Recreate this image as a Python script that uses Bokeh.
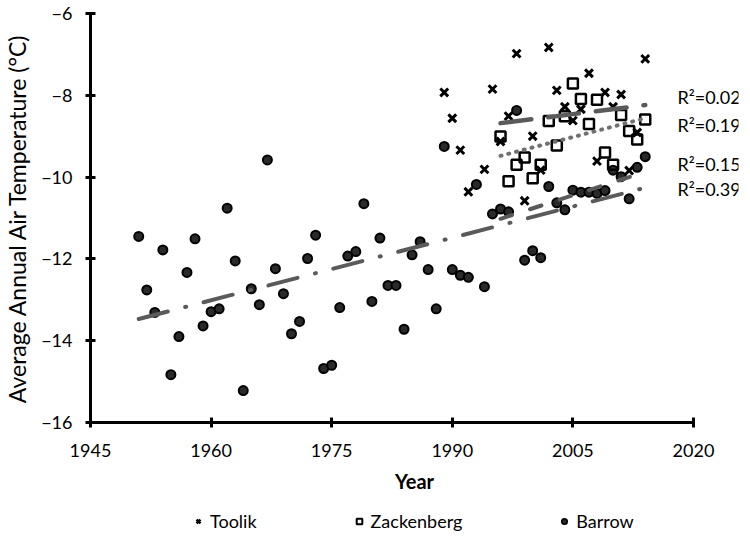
from bokeh.plotting import figure
from bokeh.layouts import column
from bokeh.models import Range1d, FixedTicker, Legend, LegendItem, Label, ColumnDataSource
from bokeh.embed import file_html
from bokeh.resources import INLINE

# ---------------- data ----------------
barrow_years = list(range(1951, 2015))
barrow_temp = [-11.45, -12.76, -13.31, -11.78, -14.83, -13.90, -12.33, -11.51, -13.64, -13.29,
               -13.22, -10.76, -12.05, -15.22, -12.73, -13.12, -9.58, -12.24, -12.85, -13.83,
               -13.53, -11.99, -11.42, -14.68, -14.60, -13.19, -11.93, -11.82, -10.65, -13.04,
               -11.49, -12.65, -12.65, -13.72, -11.90, -11.58, -12.26, -13.22, -9.25, -12.26,
               -12.40, -12.45, -10.18, -12.68, -10.90, -10.78, -10.85, -8.37, -12.03, -11.80,
               -11.97, -10.23, -10.63, -10.80, -10.32, -10.37, -10.37, -10.40, -10.33, -9.83,
               -9.99, -10.53, -9.76, -9.50]

toolik_years = [1989, 1990, 1991, 1992, 1994, 1995, 1996, 1997, 1998, 1999, 2000, 2001, 2002,
                2003, 2004, 2005, 2006, 2007, 2008, 2009, 2010, 2011, 2012, 2013, 2014]
toolik_temp = [-7.93, -8.56, -9.34, -10.36, -9.81, -7.85, -9.13, -8.51, -6.98, -10.58, -9.00,
               -9.83, -6.83, -7.88, -8.28, -8.62, -8.34, -7.46, -9.61, -7.93, -8.28, -7.98,
               -9.84, -8.91, -7.11]

zack_years = list(range(1996, 2015))
zack_temp = [-9.01, -10.10, -9.70, -9.52, -10.03, -9.70, -8.63, -9.23, -8.51, -7.71, -8.09,
             -8.70, -8.11, -9.40, -9.70, -8.48, -8.87, -9.08, -8.59]

# trend lines (start/end)
toolik_trend_x = [1996, 2014]
toolik_trend_y = [-8.68, -8.24]
zack_trend_x = [1996, 2014]
zack_trend_y = [-9.48, -8.56]
barrow_recent_trend_x = [1996, 2014]
barrow_recent_trend_y = [-11.02, -9.87]
barrow_full_trend_x = [1951, 2014]
barrow_full_trend_y = [-13.47, -10.26]

r2_texts = ["R\u00b2=0.02", "R\u00b2=0.19", "R\u00b2=0.15", "R\u00b2=0.39"]
r2_y = [-8.04, -8.73, -9.68, -10.29]
r2_x = 2018.0

series_names = ["Toolik", "Zackenberg", "Barrow"]
x_ticks = [1945, 1960, 1975, 1990, 2005, 2020]
y_ticks = [-16, -14, -12, -10, -8, -6]

FONT = "Lato"
LINE_GRAY = "#5a5a5a"

# ---------------- main figure ----------------
# frame extends right of 2020 so the R^2 labels fit; axis line limited by bounds
fig = figure(width=742, height=500, x_range=Range1d(1945, 2025.6), y_range=Range1d(-16, -6),
             output_backend="svg", toolbar_location=None,
             min_border_left=81, min_border_right=4, min_border_top=13, min_border_bottom=78)
fig.outline_line_color = None
fig.xgrid.visible = False
fig.ygrid.visible = False

for ax in (fig.xaxis[0], fig.yaxis[0]):
    ax.axis_line_width = 3
    ax.axis_line_color = "black"
    ax.major_tick_line_width = 3
    ax.major_tick_line_color = "black"
    ax.major_tick_in = 5
    ax.major_tick_out = 5
    ax.minor_tick_line_color = None
    ax.major_label_text_font = FONT
    ax.major_label_text_font_size = "18px"
    ax.major_label_text_color = "black"
    ax.axis_label_text_font = FONT
    ax.axis_label_text_color = "black"

fig.xaxis.bounds = (1945, 2020)
fig.xaxis.ticker = FixedTicker(ticks=x_ticks)
fig.yaxis.ticker = FixedTicker(ticks=y_ticks)
fig.xaxis.axis_label = "Year"
fig.xaxis.axis_label_text_font_style = "bold"
fig.xaxis.axis_label_text_font_size = "20px"
fig.yaxis.axis_label = "Average Annual Air Temperature (\u00b0C)"
fig.yaxis.axis_label_text_font_style = "normal"
fig.yaxis.axis_label_text_font_size = "23px"
fig.xaxis.major_label_standoff = 16
fig.yaxis.major_label_standoff = 13
fig.xaxis.axis_label_standoff = 9
fig.yaxis.axis_label_standoff = 7

# points
fig.scatter(barrow_years, barrow_temp, marker="circle", size=9, fill_color="#2a2a2a",
            line_color="black", line_width=2)
fig.scatter(zack_years, zack_temp, marker="square", size=10, fill_alpha=0,
            line_color="black", line_width=2.5)
fig.scatter(toolik_years, toolik_temp, marker="x", size=11, line_color="black", line_width=3)

# trend lines
fig.line(barrow_full_trend_x, barrow_full_trend_y, line_color=LINE_GRAY, line_width=4,
         line_dash="30 18 1 18", line_cap="round")
fig.line(barrow_recent_trend_x, barrow_recent_trend_y, line_color=LINE_GRAY, line_width=4,
         line_dash="12 19", line_cap="round")
fig.line(zack_trend_x, zack_trend_y, line_color="#707070", line_width=4,
         line_dash="1 7", line_cap="round")
fig.line(toolik_trend_x, toolik_trend_y, line_color=LINE_GRAY, line_width=4.5,
         line_dash="31 17", line_cap="round")

# R^2 labels
for t, yv in zip(r2_texts, r2_y):
    fig.add_layout(Label(x=r2_x, y=yv, text=t, text_baseline="middle", text_align="left",
                         text_font=FONT, text_font_size="18px", text_color="black"))

# ---------------- legend strip ----------------
leg_fig = figure(width=742, height=40, x_range=Range1d(0, 1), y_range=Range1d(0, 1),
                 output_backend="svg", toolbar_location=None, min_border=0,
                 x_axis_type=None, y_axis_type=None)
leg_fig.outline_line_color = None
nan = float("nan")
leg_src = ColumnDataSource(dict(x=[nan], y=[nan]))
r_t = leg_fig.scatter("x", "y", source=leg_src, marker="x", line_color="black",
                      line_width=2.5)
r_z = leg_fig.scatter("x", "y", source=leg_src, marker="square", fill_alpha=0,
                      line_color="black", line_width=2)
r_b = leg_fig.scatter("x", "y", source=leg_src, marker="circle", fill_color="#2a2a2a",
                      line_color="black", line_width=1.5)
legend = Legend(items=[LegendItem(label=series_names[0], renderers=[r_t]),
                       LegendItem(label=series_names[1], renderers=[r_z]),
                       LegendItem(label=series_names[2], renderers=[r_b])],
                orientation="horizontal", location=(101, 8),
                glyph_width=14, glyph_height=14, label_standoff=5, spacing=95,
                label_text_font=FONT, label_text_font_size="18px", label_text_color="black",
                border_line_color=None, background_fill_alpha=0, padding=6, margin=0)
leg_fig.add_layout(legend)

p = column(fig, leg_fig, spacing=0)
open("out.html", "w").write(file_html(p, INLINE))
